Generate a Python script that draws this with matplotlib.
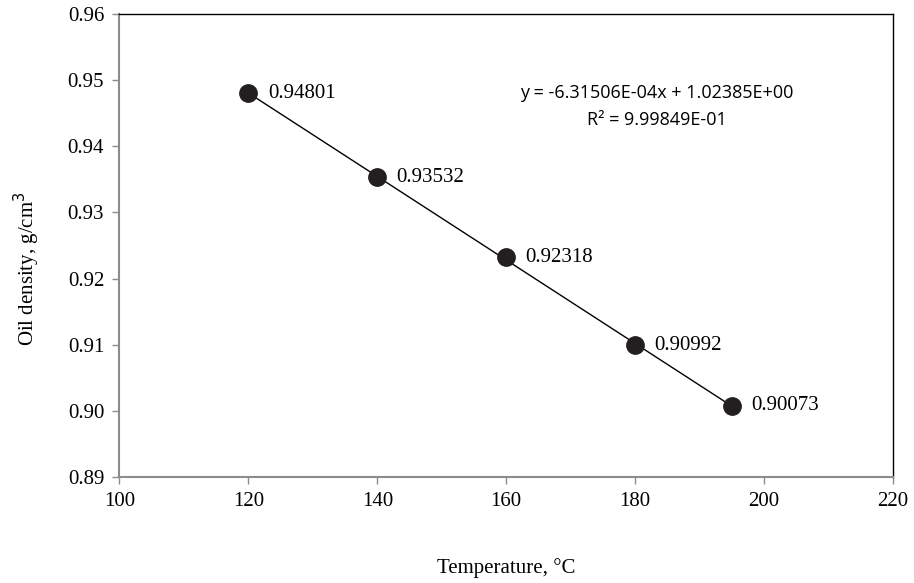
import numpy as np
import matplotlib.pyplot as plt

# data
temperature = [120, 140, 160, 180, 195]
density = [0.94801, 0.93532, 0.92318, 0.90992, 0.90073]
point_labels = ['0.94801', '0.93532', '0.92318', '0.90992', '0.90073']
eq_text = 'y = -6.31506E-04x + 1.02385E+00\nR² = 9.99849E-01'

x_ticks = [100, 120, 140, 160, 180, 200, 220]
y_ticks = [0.89, 0.90, 0.91, 0.92, 0.93, 0.94, 0.95, 0.96]

plt.rcParams['font.family'] = ['Liberation Serif', 'DejaVu Serif']

fig = plt.figure(figsize=(9.14, 5.83), dpi=100)
ax = fig.add_axes([0.1307, 0.182, 0.8463, 0.794])

# linear trendline over the data range
coef = np.polyfit(temperature, density, 1)
xs = np.array([min(temperature), max(temperature)])
ax.plot(xs, np.polyval(coef, xs), color='black', lw=1.0, zorder=2)

ax.plot(temperature, density, 'o', color='#231f20', markersize=12.5, zorder=3)

for x, y, lab in zip(temperature, density, point_labels):
    ax.annotate(lab, (x, y), xytext=(14, 0), textcoords='offset points',
                va='center', ha='left', fontsize=15)

ax.text(0.695, 0.80, eq_text, transform=ax.transAxes, ha='center', va='center',
        fontsize=13, family=['Open Sans', 'DejaVu Sans'], linespacing=1.65)

ax.set_xlim(100, 220)
ax.set_ylim(0.89, 0.96)
ax.set_xticks(x_ticks)
ax.set_yticks(y_ticks)
ax.set_yticklabels([f'{v:.2f}' for v in y_ticks])

for side in ['left', 'bottom']:
    ax.spines[side].set_color('#8c8c8c')
    ax.spines[side].set_linewidth(1.5)
for side in ['top', 'right']:
    ax.spines[side].set_color('black')
    ax.spines[side].set_linewidth(1.0)

ax.tick_params(direction='out', length=5, width=1, color='#8c8c8c',
               labelsize=15, pad=6)

ax.set_xlabel('Temperature, °C', fontsize=15)
ax.xaxis.set_label_coords(0.5, -0.175)
ax.set_ylabel('Oil density, g/cm$^3$', fontsize=15)
ax.yaxis.set_label_coords(-0.10, 0.45)

plt.savefig('out.png', dpi=100)
